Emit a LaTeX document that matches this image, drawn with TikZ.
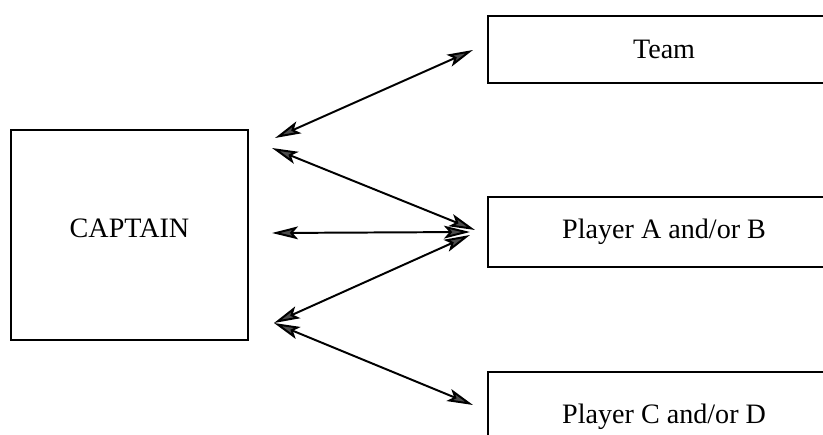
\documentclass[tikz,border=0pt]{standalone}
\usepackage{fontspec}
\setmainfont{Liberation Serif}
\usetikzlibrary{positioning, arrows.meta}
\tikzset{
  box/.style={draw, line width=1.5pt, inner sep=0pt, font=\fontsize{20}{23}\selectfont},
  link/.style={line width=1.4pt, >={Stealth[length=6.5mm, width=3.2mm, inset=1.4mm, fill=gray!60!black]}, <->}
}
\begin{document}
\begin{tikzpicture}
    \useasboundingbox (0,0) rectangle (20.575,10.85);
    % captain on the left
    \node [box, minimum width=5.925cm, minimum height=5.25cm, text depth=0.35cm] (captain) at (3.2375,4.975) {CAPTAIN};
    % the three boxes on the right, cut by the page edge
    \node [box, anchor=west, minimum width=8.8cm, minimum height=1.675cm] (team) at (12.175,9.6125) {Team};
    \node [box, anchor=west, minimum width=8.8cm, minimum height=1.75cm] (playerAB) at (12.175,5.05) {Player A and/or B};
    \node [box, anchor=west, minimum width=8.8cm, minimum height=2.25cm] (playerCD) at (12.175,0.425) {Player C and/or D};
    % arrow ends
    \coordinate (capTeam) at (6.875,7.4);
    \coordinate (capAB) at (6.8,7.15);
    \coordinate (capMid) at (6.8,5.025);
    \coordinate (capLow) at (6.85,2.775);
    \coordinate (teamEnd) at (11.825,9.6);
    \coordinate (abTop) at (11.875,5.1);
    \coordinate (abMid) at (11.75,5.05);
    \coordinate (abLow) at (11.75,4.975);
    \coordinate (cdEnd) at (11.825,0.725);
    %
    \draw[link] (capTeam) -- (teamEnd);
    \draw[link] (capAB) -- (abTop);
    \draw[link] (capMid) -- (abMid);
    \draw[link] (capLow) -- (abLow);
    \draw[link] (capLow) -- (cdEnd);
\end{tikzpicture}
\end{document}
